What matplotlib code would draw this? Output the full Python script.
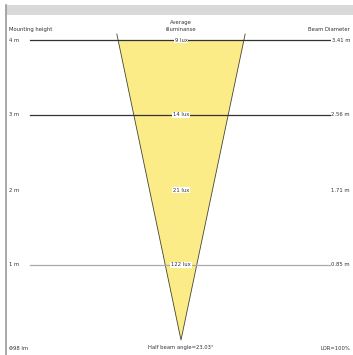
import matplotlib
matplotlib.use("Agg")
import matplotlib.pyplot as plt
import numpy as np

# data
heights = [4, 3, 2, 1]
height_labels = ["4 m", "3 m", "2 m", "1 m"]
lux_labels = ["9 lux", "14 lux", "21 lux", "122 lux"]
diameters = [3.41, 2.56, 1.71, 0.85]
diameter_labels = ["3.41 m", "2.56 m", "1.71 m", "0.85 m"]
line_colors = ["#333333", "#333333", None, "#aaaaaa"]
half_angle = 23.03

fig = plt.figure(figsize=(3.53, 3.55), dpi=100)
ax = fig.add_axes([0, 0, 1, 1])
ax.set_xlim(-181 / 37.0, 172 / 37.0)
ax.set_ylim(-15 / 75.0, 4 + 40 / 75.0)
ax.axis("off")

# frame: grey header band and left rule
ax.axhspan(4 + 25 / 75.0, 4 + 35 / 75.0, xmin=6 / 353.0, xmax=1, color="#d9d9d9", lw=0)
ax.axvline(-175 / 37.0, ymin=0, ymax=350 / 355.0, color="#9a9a9a", lw=1.2)

# beam cone
r_top = np.tan(np.radians(half_angle)) * heights[0]
ax.fill([-r_top, r_top, 0], [4, 4, 0], color="#fcec88", lw=0, zorder=1)
r_ext = np.tan(np.radians(half_angle)) * 4.08
ax.plot([-r_ext, 0, r_ext], [4.08, 0, 4.08], color="#444433", lw=0.6, zorder=2)

fs = 3.8
for h, hl, lx, d, dl, c in zip(heights, height_labels, lux_labels, diameters,
                                 diameter_labels, line_colors):
    if c is not None:
        ax.plot([-151 / 37.0, 152 / 37.0], [h, h], color=c, lw=0.9, zorder=3)
    ax.text(-172 / 37.0, h, hl, fontsize=fs, va="center", ha="left", color="#333333",
            bbox=dict(facecolor="white", edgecolor="none", pad=0.6), zorder=4)
    ax.text(0, h, lx, fontsize=fs, va="center", ha="center", color="#333333",
            bbox=dict(facecolor="white", edgecolor="none", pad=0.6), zorder=4)
    ax.text(169 / 37.0, h, dl, fontsize=fs, va="center", ha="right", color="#333333",
            bbox=dict(facecolor="white", edgecolor="none", pad=0.6), zorder=4)

ax.text(-172 / 37.0, 4 + 10 / 75.0, "Mounting height", fontsize=fs, va="center",
        ha="left", color="#333333")
ax.text(169 / 37.0, 4 + 10 / 75.0, "Beam Diameter", fontsize=fs, va="center",
        ha="right", color="#333333")
ax.text(0, 4 + 14 / 75.0, "Average\nilluminanse", fontsize=fs, va="center",
        ha="center", color="#333333", linespacing=1.6)

ax.text(-172 / 37.0, -8 / 75.0, "Φ98 lm", fontsize=fs, va="center", ha="left",
        color="#333333")
ax.text(0, -8 / 75.0, "Half beam angle=%.2f°" % half_angle, fontsize=fs,
        va="center", ha="center", color="#333333")
ax.text(169 / 37.0, -8 / 75.0, "LOR=100%", fontsize=fs, va="center", ha="right",
        color="#333333")

fig.savefig("out.png", dpi=100)
